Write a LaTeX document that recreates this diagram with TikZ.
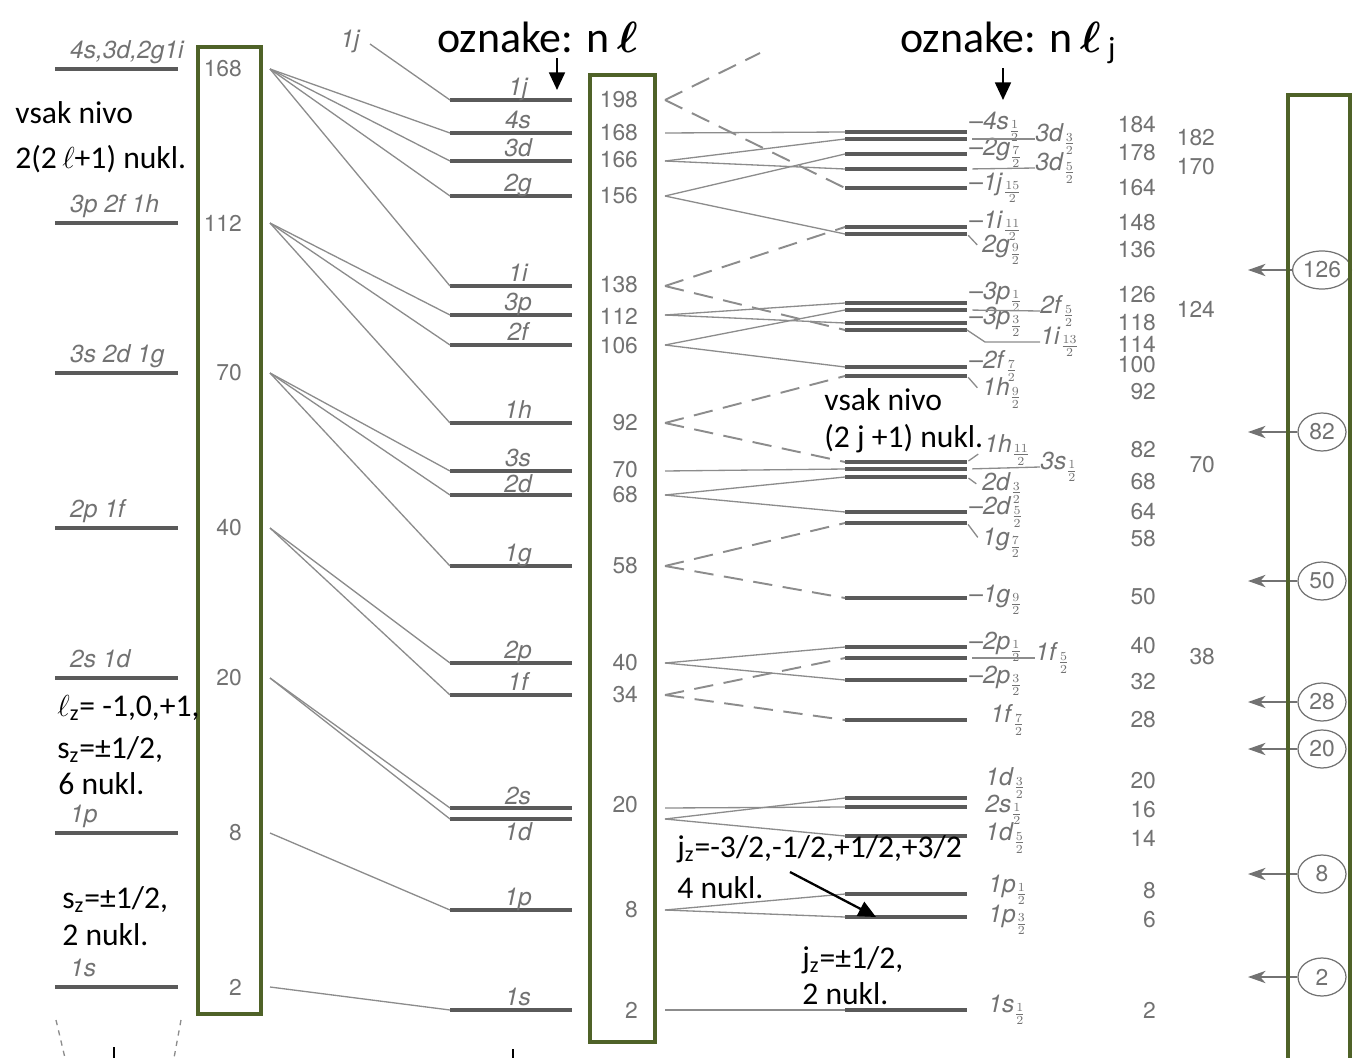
\documentclass[tikz,border=0pt]{standalone}
\usepackage{amsmath}
\usepackage{fontspec}
\setmainfont{Carlito}
\newfontfamily\helv{TeX Gyre Heros}
\usepackage{tikz}
\usetikzlibrary{positioning,shapes,arrows.meta}

\definecolor{inkgrey}{HTML}{727272}
\definecolor{linegrey}{HTML}{5A5A5A}
\definecolor{thingrey}{HTML}{8C8C8C}
\definecolor{boxgreen}{HTML}{4F6228}

\newcommand{\nlj}[3]{\textit{#1}$_{\frac{#2}{#3}}$}

\begin{document}
\begin{tikzpicture}[x=0.02cm,y=-0.02cm,
  level line/.style={linegrey,line width=1.8pt},
  split line/.style={thingrey,line width=0.75pt},
  split dash/.style={thingrey,line width=1.1pt,dash pattern=on 11pt off 6pt},
  level label/.style={inkgrey,font=\helv\fontsize{14}{14}\selectfont\itshape,inner sep=1pt},
  num label/.style={inkgrey,font=\helv\fontsize{13}{13}\selectfont,inner sep=1pt},
  j label/.style={inkgrey,font=\helv\fontsize{14}{14}\selectfont,inner sep=0pt,anchor=west},
  green box/.style={draw=boxgreen,line width=2.3pt},
  magic/.style={ellipse,draw=inkgrey,line width=0.7pt,minimum width=0.96cm,minimum height=0.76cm,num label},
  note/.style={black,font=\fontsize{18}{18}\selectfont,inner sep=0pt,anchor=base west},
  big note/.style={black,font=\fontsize{25}{25}\selectfont,inner sep=0pt,anchor=base west},
  pointer/.style={black,line width=1.3pt,-{Triangle[length=10pt,width=9pt]}}]
\useasboundingbox (0,0) rectangle (1356,1058);

% oscillator shells
\foreach \nm/\y/\lab/\num in {6/69/{4s,3d,2g1i}/168,5/223/{3p 2f 1h}/112,4/373/{3s 2d 1g}/70,3/528/{2p 1f}/40,2/678/{2s 1d}/20,1/833/{1p}/8,0/987/{1s}/2}{
  \draw[level line] (55,\y) -- (178,\y);
  \node[level label,anchor=base west] (s\nm) at (68,\y-11) {\lab};
  \node[num label,anchor=east] (o\nm) at (244,\y) {\num};
  \coordinate (f\nm) at (270,\y);
}
\draw[split line,dashed] (56,1020) -- (65,1058);
\draw[split line,dashed] (181,1020) -- (174,1058);
\draw[black,line width=0.8pt] (114,1047) -- (114,1058);
\draw[black,line width=0.8pt] (513,1049) -- (513,1058);

% n l levels
\foreach \nm/\y/\dy in {1j/100/-5,4s/133/-5,3d/161/-5,2g/196/-5,1i/286/-5,3p/315/-5,2f/345/-5,1h/423/-5,3s/471/-5,2d/495/-3,1g/566/-5,2p/663/-5,1f/695/-5,2s/808/-4,1d/819/21,1p/910/-5,1s/1010/-5}{
  \draw[level line] (450,\y) coordinate (A\nm) -- (572,\y);
  \node[level label,anchor=base] (t\nm) at (518,\y+\dy) {\nm};
  \coordinate (B\nm) at (665,\y);
}
\foreach \y/\num in {100/198,133/168,160/166,196/156,285/138,316/112,346/106,423/92,470/70,495/68,566/58,663/40,695/34,805/20,910/8,1010/2}
  \node[num label,anchor=east] (m\num) at (640,\y) {\num};

\node[level label] (top1j) at (350,41) {1j};
\coordinate (c1j) at (370,44);
\coordinate (up1j) at (760,53);

% n l j levels
\foreach \nm/\y in {4s1/132,3d3/139,2g7/154,3d5/169,1j15/188,1i11/227,2g9/234,3p1/303,2f5/310,3p3/323,1i13/330,2f7/367,1h9/376,1h11/462,3s1/469,2d3/477,2d5/512,1g7/523,1g9/598,2p1/647,1f5/658,2p3/680,1f7/720,1d3/798,2s1/807,1d5/836,1p1/894,1p3/917,1s1/1010}
  \draw[level line] (845,\y) coordinate (R\nm) -- (967,\y) coordinate (E\nm);

% fan out
\foreach \f/\m in {6/4s,6/3d,6/2g,6/1i,5/3p,5/2f,5/1h,4/3s,4/2d,4/1g,3/2p,3/1f,2/2s,2/1d,1/1p,0/1s}
  \draw[split line] (f\f) -- (A\m);
\draw[split line] (c1j) -- (A1j);

% spin-orbit
\foreach \m/\r in {4s/4s1,3d/3d3,3d/3d5,2g/2g7,2g/2g9,3p/3p1,3p/3p3,2f/2f5,2f/2f7,3s/3s1,2d/2d3,2d/2d5,2p/2p1,2p/2p3,2s/2s1,1d/1d3,1d/1d5,1p/1p1,1p/1p3,1s/1s1}
  \draw[split line] (B\m) -- (R\r);
\foreach \m/\r in {1j/1j15,1i/1i11,1i/1i13,1h/1h9,1h/1h11,1g/1g7,1g/1g9,1f/1f5,1f/1f7}
  \draw[split dash] (B\m) -- (R\r);
\draw[split dash] (B1j) -- (up1j);

% j labels
\foreach \nm/\y/\l/\a/\b in {4s1/127/4s/1/2,2g7/153/2g/7/2,1j15/188/1j/15/2,1i11/226/1i/11/2,3p1/297/3p/1/2,3p3/322/3p/3/2,2f7/366/2f/7/2,2d5/512/2d/5/2,1g9/600/1g/9/2,2p1/647/2p/1/2,2p3/681/2p/3/2}
  \node[j label] (L\nm) at (969,\y) {\textendash\nlj{\l}{\a}{\b}};
\foreach \nm/\y/\x/\l/\a/\b in {3d3/139/1035/3d/3/2,3d5/168/1035/3d/5/2,2f5/311/1040/2f/5/2,3s1/467/1040/3s/1/2,1f5/658/1035/1f/5/2}{
  \node[j label] (L\nm) at (\x,\y) {\nlj{\l}{\a}{\b}};
  \draw[split line,shorten <=3pt] (E\nm) -- (L\nm.west);
}
\foreach \nm/\y/\x/\l/\a/\b in {2g9/250/982/2g/9/2,1h9/393/982/1h/9/2,1h11/450/984/1h/11/2,2d3/488/982/2d/3/2,1g7/543/982/1g/7/2}{
  \node[j label] (L\nm) at (\x,\y) {\nlj{\l}{\a}{\b}};
  \draw[split line,shorten <=1pt,shorten >=4pt] (E\nm) -- (L\nm.west);
}
\node[j label] (L1i13) at (1040,342) {\nlj{1i}{13}{2}};
\draw[split line] (E1i13) -- (985,342) -- (L1i13.west);
\foreach \nm/\y/\x/\l/\a/\b in {1f7/720/990/1f/7/2,1d3/783/985/1d/3/2,2s1/810/985/2s/1/2,1d5/838/985/1d/5/2,1p1/890/988/1p/1/2,1p3/920/988/1p/3/2,1s1/1010/988/1s/1/2}
  \node[j label] (L\nm) at (\x,\y) {\nlj{\l}{\a}{\b}};

% nucleon counts
\foreach \y/\num [count=\i] in {125/184,153/178,188/164,223/148,250/136,295/126,323/118,344/114,365/100,392/92,450/82,482/68,512/64,539/58,597/50,646/40,682/32,720/28,781/20,810/16,838/14,891/8,920/6,1010/2}
  \node[num label,anchor=east] (r\i) at (1158,\y) {\num};
\foreach \y/\num [count=\i] in {138/182,167/170,309/124,465/70,657/38}
  \node[num label,anchor=east] (q\i) at (1217,\y) {\num};

% magic numbers
\foreach \y/\num in {270/126,432/82,581/50,702/28,749/20,874/8,977/2}{
  \node[magic] (c\num) at (1322,\y) {\num};
  \coordinate (a\num) at (1248,\y);
  \draw[inkgrey,line width=0.7pt,-{Stealth[length=10pt,width=7pt,inset=3pt]}] (c\num) -- (a\num);
}

% frames
\draw[green box] (198,47) rectangle (261,1014);
\draw[green box] (590,75) rectangle (655,1042);
\draw[green box] (1288,95) rectangle (1350,1075);

% notes
\node[big note] (oz1) at (437,52) {oznake: n\,{\fontsize{31}{31}\selectfont$\boldsymbol{\ell}$}};
\coordinate (oz1a) at (557,58);
\coordinate (oz1b) at (557,90);
\draw[pointer] (oz1a) -- (oz1b);
\node[big note] (oz2) at (900,52) {oznake: n\,{\fontsize{31}{31}\selectfont$\boldsymbol{\ell}$}\,\textsubscript{j}};
\coordinate (oz2a) at (1003,68);
\coordinate (oz2b) at (1003,100);
\draw[pointer] (oz2a) -- (oz2b);

\node[note] (v1) at (15,123) {vsak nivo};
\node[note] (v2) at (15,168) {2(2\,$\ell$+1) nukl.};
\node[note] (lz1) at (57,716) {$\ell$\textsubscript{z}= -1,0,+1,};
\node[note] (lz2) at (57,758) {s\textsubscript{z}=±1/2,};
\node[note] (lz3) at (58,794) {6 nukl.};
\node[note] (sz1) at (62,908) {s\textsubscript{z}=±1/2,};
\node[note] (sz2) at (62,945) {2 nukl.};
\node[note] (w1) at (824,410) {vsak nivo};
\node[note] (w2) at (824,447) {(2 j +1) nukl.};
\node[note] (jz1) at (677,857) {j\textsubscript{z}=-3/2,-1/2,+1/2,+3/2};
\node[note] (jz2) at (677,898) {4 nukl.};
\node[note] (jh1) at (802,968) {j\textsubscript{z}=±1/2,};
\node[note] (jh2) at (802,1004) {2 nukl.};
\coordinate (jza) at (790,872);
\coordinate (jzb) at (876,917);
\draw[pointer] (jza) -- (jzb);
\end{tikzpicture}
\end{document}
